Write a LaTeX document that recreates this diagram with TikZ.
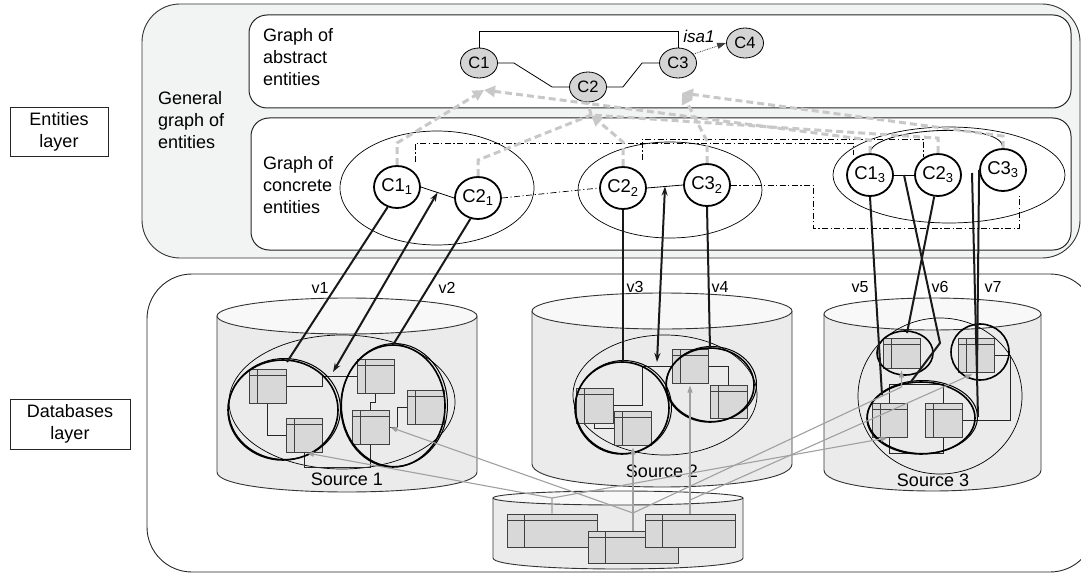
\documentclass[tikz,border=0pt]{standalone}
\usepackage{fontspec}
\setmainfont{Liberation Sans}
\usetikzlibrary{shapes.geometric,arrows.meta,calc}
\definecolor{bgent}{HTML}{F2F3F3}
\definecolor{cylbody}{HTML}{EBEBEB}
\definecolor{cyltop}{HTML}{F8F8F8}
\definecolor{tblfill}{HTML}{D8D8D8}
\definecolor{dashgray}{HTML}{C8C8C8}
\definecolor{linegray}{HTML}{A0A0A0}
\definecolor{absfill}{HTML}{D4D4D4}
\newcommand{\dbcyl}[6]{%
  \fill[cylbody] (#1,#3) -- (#1,#5) .. controls (#1,{#5+#6*1.333}) and (#2,{#5+#6*1.333}) .. (#2,#5) -- (#2,#3) -- cycle;
  \draw[cyledge] (#1,#3) -- (#1,#5) .. controls (#1,{#5+#6*1.333}) and (#2,{#5+#6*1.333}) .. (#2,#5) -- (#2,#3);
  \draw[cyledge, fill=cyltop] ({(#1+#2)/2},#3) ellipse ({(#2-#1)/2} and #4);
}
\newcommand{\grpell}[4]{%
  \draw[grp] (#1,#2) ellipse (#3 and #4);
  \draw[line width=1pt] ({#1+1.5},{#2-1}) ellipse ({#3+1} and {#4+0.5});
}
\begin{document}
\begin{tikzpicture}[x=1pt,y=-1pt,
  font=\fontsize{18}{22}\selectfont,
  abs/.style={ellipse, draw=black, line width=0.8pt, fill=absfill, minimum width=37pt, minimum height=30pt, inner sep=0pt, font=\fontsize{16.5}{18}\selectfont},
  con/.style={ellipse, draw=black, line width=1.8pt, fill=white, minimum width=46pt, minimum height=42pt, inner sep=0pt, font=\fontsize{18.5}{20}\selectfont},
  lbl/.style={anchor=west, align=left, inner sep=0pt},
  vlab/.style={inner sep=0pt, font=\fontsize{16}{18}\selectfont},
  layerbox/.style={draw=black!85, line width=0.9pt, align=center, inner sep=0pt},
  gdash/.style={draw=dashgray, line width=3pt, dash pattern=on 7pt off 4pt},
  gtip/.style={-{Triangle[length=11pt,width=11pt]}},
  gl/.style={draw=linegray, line width=1.1pt},
  gltip/.style={-{Triangle[length=7pt,width=5pt]}},
  thk/.style={line width=2pt, draw=black!90},
  dblarr/.style={thk, {Stealth[length=9pt,width=6pt]}-{Stealth[length=9pt,width=6pt]}},
  ddot/.style={line width=0.7pt, dash pattern=on 6pt off 2.5pt on 1.2pt off 2.5pt},
  thinell/.style={line width=0.7pt},
  grp/.style={line width=1.6pt},
  cyledge/.style={draw=black!80, line width=0.9pt},
  conn/.style={line width=0.8pt, draw=black!85},
  tbl/.style={rectangle, draw=black!75, fill=tblfill, line width=1pt, inner sep=0pt,
    path picture={\draw[black!75, line width=1pt]
      ([yshift=-6pt]path picture bounding box.north west) -- ([yshift=-6pt]path picture bounding box.north east)
      ([xshift=8pt]path picture bounding box.north west) -- ([xshift=8pt]path picture bounding box.south west);}},
  tblw/.style={rectangle, draw=black!75, fill=tblfill, line width=1pt, inner sep=0pt, minimum width=90pt, minimum height=33pt,
    path picture={\draw[black!75, line width=1pt]
      ([yshift=-6pt]path picture bounding box.north west) -- ([yshift=-6pt]path picture bounding box.north east)
      ([xshift=17pt]path picture bounding box.north west) -- ([xshift=17pt]path picture bounding box.south west);}}
]
\useasboundingbox (0,0) rectangle (1081,575);

% ---------- layer labels ----------
\node[layerbox, minimum width=98pt, minimum height=49pt] (entl) at (59,132) {Entities\\layer};
\node[layerbox, minimum width=120pt, minimum height=50pt] (dbl) at (70,424) {Databases\\layer};

% ---------- entities layer ----------
\draw[draw=black!80, line width=0.9pt, fill=bgent, rounded corners=38pt] (142,4) rectangle (1080,258);
\node[lbl] (tgen) at (158,120) {General\\graph of\\entities};
\draw[draw=black!85, line width=1pt, fill=white, rounded corners=18pt] (249,15) rectangle (1071,108);
\node[lbl] (tabs) at (263,57) {Graph of\\abstract\\entities};
\draw[draw=black!85, line width=1pt, fill=white, rounded corners=18pt] (251,118) rectangle (1071,250);
\node[lbl] (tcon) at (263,185) {Graph of\\concrete\\entities};

% concrete groups
\draw[thinell] (437,188) ellipse (97 and 57);
\draw[thinell] (670,190) ellipse (92 and 48);
\draw[thinell] (949,175) ellipse (116 and 48);

% abstract nodes
\node[abs] (C1) at (479,63) {C1};
\node[abs] (C2) at (588,87) {C2};
\node[abs] (C3) at (678,63) {C3};
\node[abs] (C4) at (745,43) {C4};
\node[inner sep=0pt, font=\itshape\fontsize{17}{18}\selectfont] (isa) at (699,36) {isa1};

\draw[line width=0.8pt] (C1.north) -- ++(0,-16) -| (C3.north);
\draw[line width=0.8pt] (C1.east) -- ++(16,0) -- ($(C2.west)+(-17,0)$) -- (C2.west);
\draw[line width=0.8pt] (C2.east) -- ++(16,0) -- ($(C3.west)+(-17,0)$) -- (C3.west);
\draw[densely dotted, line width=0.8pt, draw=black!75, -{Triangle[length=9pt,width=6pt]}] (C3.30) -- (C4.west);

% concrete nodes
\node[con] (c11) at (397,187) {C1\textsubscript{1}};
\node[con] (c21) at (478,198) {C2\textsubscript{1}};
\node[con] (c22) at (623,188) {C2\textsubscript{2}};
\node[con] (c32) at (707,185) {C3\textsubscript{2}};
\node[con] (c13) at (870,175) {C1\textsubscript{3}};
\node[con] (c23) at (938,175) {C2\textsubscript{3}};
\node[con] (c33) at (1003,170) {C3\textsubscript{3}};

\draw[line width=0.8pt] (c11.east) -- (c21.west);
\draw[line width=0.8pt] (c22.east) -- (c32.west);
\draw[line width=0.8pt] (c13.east) -- (c23.west);
\draw[line width=0.8pt] (c13.north) .. controls (871,128) and (1003,120) .. (c33.north);

% dash-dot links
\coordinate (d1a) at (415,162);
\coordinate (d1b) at (853,155);
\coordinate (d2a) at (642,160);
\coordinate (d2b) at (923,157);
\coordinate (d3b) at (1019,196);
\draw[ddot] (d1a) -- (415,143) -| (d1b);
\draw[ddot] (d2a) -- (642,139) -| (d2b);
\draw[ddot] (c21.east) -- (c22.west);
\draw[ddot] (c32.east) -- (813,185) -- (813,228) -| (d3b);

% gray dashed abstraction links
\coordinate (J1) at (484,90);
\coordinate (J2) at (591,115);
\coordinate (J3) at (682,93);
\draw[gdash] (J2) -- (C2.south);
\draw[gdash, gtip] (c11.north) -- (397,143) -- (J1);
\draw[gdash, gtip] (c13.north) -- ++(0,-13) -- (J1);
\draw[gdash] (c21.north) -- ++(0,-16) -- (J2);
\draw[gdash] (c23.north) -- ++(0,-15) -- (J2);
\draw[gdash, gtip] (c22.north) -- ++(0,-24) -- (J2);
\draw[gdash, gtip] (c32.north) -- ++(0,-22) -- (J3);
\draw[gdash, gtip] (c33.north) -- ++(0,-12) -- (J3);

% ---------- databases layer ----------
\draw[draw=black!85, line width=0.9pt, fill=white, rounded corners=45pt] (147,274) rectangle (1095,572);

\dbcyl{217}{477}{316}{18}{472}{20}
\dbcyl{532}{792}{311}{18}{464}{23}
\dbcyl{824}{1041}{314}{16}{470}{21}
\dbcyl{493}{743}{498}{7}{558}{11}

\node[inner sep=0pt] (src1) at (347,479) {Source 1};
\node[inner sep=0pt] (src2) at (662,471) {Source 2};
\node[inner sep=0pt] (src3) at (933,480) {Source 3};

% thin group ellipses
\draw[thinell] (342,402) ellipse (113 and 67);
\draw[thinell] (665,395) ellipse (92 and 60);
\draw[thinell] (940,396) ellipse (82 and 78);

% tables source 1
\node[tbl, minimum width=37pt, minimum height=34pt] (s1t1) at (267.5,386) {};
\node[tbl, minimum width=36pt, minimum height=34pt] (s1t2) at (304,435) {};
\node[tbl, minimum width=37pt, minimum height=34pt] (s1t3) at (375.5,376) {};
\node[tbl, minimum width=37pt, minimum height=34pt] (s1t4) at (425.5,407) {};
\node[tbl, minimum width=37pt, minimum height=34pt] (s1t5) at (370.5,427) {};
\draw[conn] (s1t1.east) -- ++(36,0) |- (s1t3.west);
\draw[conn] (s1t1.south) |- (s1t2.west);
\draw[conn] (s1t3.south) -- ++(0,9) -| (s1t5.north);
\draw[conn] (s1t4.west) -- ++(-9,0) |- (s1t5.east);
\draw[conn] (s1t5.south) -- ++(0,23) -| (s1t2.south);

% tables source 2
\node[tbl, minimum width=37pt, minimum height=35pt] (s2t1) at (594.5,405.5) {};
\node[tbl, minimum width=37pt, minimum height=34pt] (s2t2) at (633,428) {};
\node[tbl, minimum width=36pt, minimum height=34pt] (s2t3) at (690,366) {};
\node[tbl, minimum width=37pt, minimum height=33pt] (s2t4) at (728.5,401.5) {};
\draw[conn] (s2t1.east) -- ++(29,0) |- (s2t3.west);
\draw[conn] (s2t1.south) |- (s2t2.west);
\draw[conn] (s2t3.east) -| (s2t4.north);

% tables source 3
\node[tbl, minimum width=37pt, minimum height=30pt] (s3t1) at (901.5,353) {};
\node[tbl, minimum width=36pt, minimum height=34pt] (s3t2) at (976,355) {};
\node[tbl, minimum width=35pt, minimum height=34pt] (s3t3) at (889.5,420) {};
\node[tbl, minimum width=37pt, minimum height=34pt] (s3t4) at (943.5,420) {};
\draw[conn] (s3t3.north) -- ++(0,-18) -| (s3t4.north);
\draw[conn] (s3t3.south) -- ++(0,16) -| (s3t4.south);
\draw[conn] (s3t4.east) -- ++(48,0) |- (s3t2.east);

% tables bottom database
\node[tblw] (bt1) at (552,530.5) {};
\node[tblw, minimum height=32pt] (bt2) at (633,547) {};
\node[tblw] (bt3) at (690,530.5) {};

% thick group ellipses (double stroked)
\grpell{283}{410}{55}{50}
\grpell{393}{406}{52}{61}
\grpell{622}{408}{47}{46}
\grpell{710}{385}{44}{37}
\draw[grp] (905,353) ellipse (28 and 22);
\draw[grp] (980,352) ellipse (29 and 28);
\grpell{921}{418}{54}{36}

% gray mapping lines
\coordinate (g1) at (552,498);
\coordinate (g2) at (633,513);
\coordinate (g3) at (690,500);
\draw[gl, gltip, shorten >=3pt] (bt1.north) -- (g1) -- (s1t2.south);
\draw[gl, gltip, shorten >=2pt] (g1) -- (s3t3.south);
\draw[gl, gltip, shorten >=1pt] (g2) -- (s1t5.east);
\draw[gl, gltip, shorten >=2pt] (bt2.north) -- (s2t2.south);
\draw[gl, gltip, shorten >=2pt] (g2) -- (901.5,387) -- (s3t1.south);
\draw[gl, gltip, shorten >=2pt] (bt3.north) -- (s2t3.south);
\draw[gl, gltip, shorten >=4pt] (g3) -- (s3t2.south);

% thick mapping lines from concrete entities
\coordinate (e1) at (287,362);
\coordinate (e2) at (333,372);
\coordinate (e3) at (393,345);
\coordinate (e4) at (623,362);
\coordinate (e5) at (657,362);
\coordinate (e6) at (710,348);
\coordinate (e7) at (882,395);
\coordinate (e8) at (907,333);
\coordinate (e9) at (910,383);
\coordinate (e10) at (977,373);
\coordinate (e11s) at (972,173);
\coordinate (e11) at (978,417);
\draw[thk] (c11.-115) -- (e1);
\draw[dblarr] ($(c11.east)!0.5!(c21.west)$) -- (e2);
\draw[thk] (c21.-110) -- (e3);
\draw[thk] (c22.south) -- (e4);
\draw[dblarr] ($(c22.east)!0.5!(c32.west)$) -- (e5);
\draw[thk] (c32.south) -- (e6);
\draw[thk] (c13.south) -- (e7);
\draw[thk] (c23.-100) -- (e8);
\draw[thk] ($(c13.east)!0.5!(c23.west)$) -- (940,343) -- (e9);
\draw[thk] (c33.west) -- (e10);
\draw[thk] (e11s) -- (e11);

% view labels
\node[vlab] (lv1) at (320,288) {v1};
\node[vlab] (lv2) at (447,288) {v2};
\node[vlab] (lv3) at (635,287) {v3};
\node[vlab] (lv4) at (720,287) {v4};
\node[vlab] (lv5) at (860,287) {v5};
\node[vlab] (lv6) at (940,287) {v6};
\node[vlab] (lv7) at (993,287) {v7};
\end{tikzpicture}
\end{document}
